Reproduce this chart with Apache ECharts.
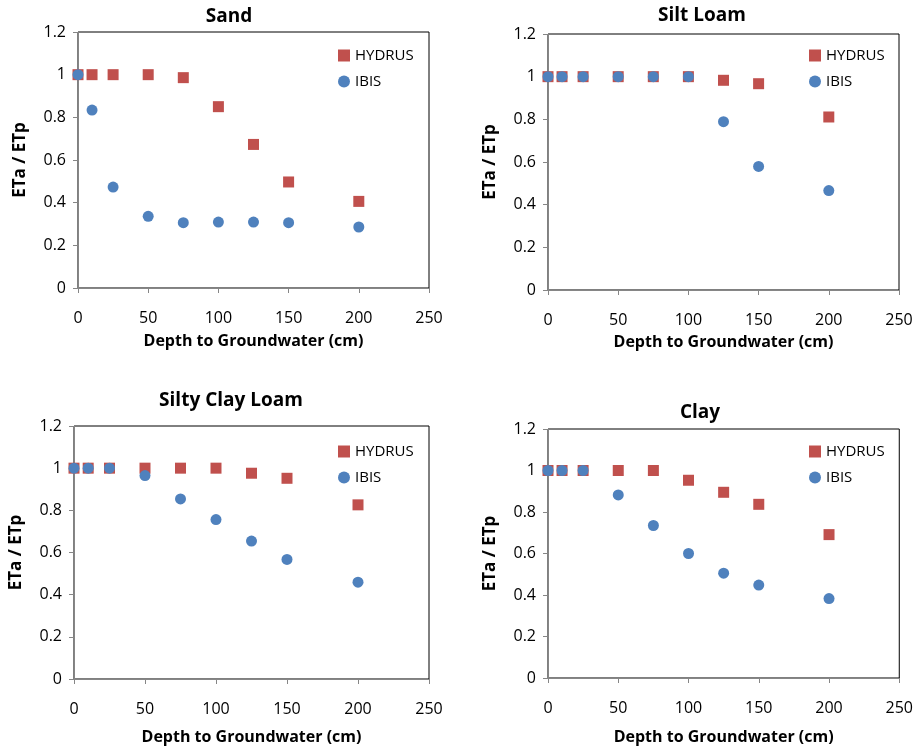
<!DOCTYPE html>
<html>
<head>
<meta charset="utf-8">
<script src="https://cdn.jsdelivr.net/npm/echarts@6/dist/echarts.min.js"></script>
<style>
  html, body { margin: 0; padding: 0; background: #fff; }
  #chart { width: 916px; height: 747px; }
</style>
</head>
<body>
<div id="chart"></div>
<script>
// depth to groundwater (cm), shared by every panel
const depth = [0, 10, 25, 50, 75, 100, 125, 150, 200];

const panelTitles = ['Sand', 'Silt Loam', 'Silty Clay Loam', 'Clay'];

const sandHydrus = [1, 1, 1, 1, 0.986, 0.85, 0.673, 0.497, 0.406];
const sandIbis = [1, 0.834, 0.473, 0.336, 0.306, 0.309, 0.309, 0.306, 0.286];

const siltLoamHydrus = [1, 1, 1, 1, 1, 1, 0.983, 0.967, 0.811];
const siltLoamIbis = [1, 1, 1, 1, 1, 1, 0.789, 0.579, 0.466];

const siltyClayHydrus = [1, 1, 1, 1, 1, 1, 0.976, 0.952, 0.826];
const siltyClayIbis = [1, 1, 1, 0.965, 0.854, 0.756, 0.654, 0.567, 0.459];

const clayHydrus = [1, 1, 1, 1, 1, 0.953, 0.895, 0.837, 0.691];
const clayIbis = [1, 1, 1, 0.882, 0.735, 0.600, 0.505, 0.448, 0.383];

const xTicks = { min: 0, max: 250, interval: 50 };
const yTicks = { min: 0, max: 1.2, interval: 0.2 };

const hydrusAll = [sandHydrus, siltLoamHydrus, siltyClayHydrus, clayHydrus];
const ibisAll = [sandIbis, siltLoamIbis, siltyClayIbis, clayIbis];

const FONT = '"Open Sans", "Liberation Sans", sans-serif';
const RED = '#C0504D';
const BLUE = '#4F81BD';
const AXIS_GREY = '#868686';

// plot areas, title centres, legend spots and x name gaps of the four panels
const panels = [
  { grid: { left: 78, top: 32, width: 351, height: 256 }, title: [229, 17], legend: [338, 48], xGap: 45 },
  { grid: { left: 548, top: 34, width: 351, height: 256 }, title: [702, 16], legend: [809, 48], xGap: 44 },
  { grid: { left: 74, top: 426, width: 355, height: 253 }, title: [231, 401], legend: [338, 444], xGap: 50 },
  { grid: { left: 548, top: 429, width: 352, height: 249 }, title: [700, 413], legend: [809, 444], xGap: 51 }
];

const pairs = v => depth.map((d, i) => [d, v[i]]);

const option = {
  animation: false,
  backgroundColor: '#fff',
  textStyle: { fontFamily: FONT },
  grid: panels.map(p => Object.assign({
    show: true,
    borderColor: '#000',
    borderWidth: 1,
    backgroundColor: 'transparent'
  }, p.grid)),
  graphic: panels.map((p, i) => ({
    type: 'text',
    x: p.title[0],
    y: p.title[1],
    style: {
      text: panelTitles[i],
      font: 'bold 19px ' + FONT,
      fill: '#000',
      align: 'center',
      verticalAlign: 'middle'
    }
  })),
  legend: panels.map(p => ({
    left: p.legend[0],
    top: p.legend[1],
    orient: 'vertical',
    padding: 0,
    itemGap: 11,
    itemWidth: 12,
    itemHeight: 12,
    data: ['HYDRUS', 'IBIS'],
    textStyle: { fontFamily: FONT, fontSize: 15, color: '#000' }
  })),
  xAxis: panels.map((p, i) => ({
    type: 'value',
    gridIndex: i,
    min: xTicks.min,
    max: xTicks.max,
    interval: xTicks.interval,
    name: 'Depth to Groundwater (cm)',
    nameLocation: 'middle',
    nameGap: p.xGap,
    nameTextStyle: { fontFamily: FONT, fontSize: 16, fontWeight: 'bold', color: '#000' },
    axisLine: { show: true, lineStyle: { color: AXIS_GREY } },
    axisTick: { show: true, length: 5, lineStyle: { color: AXIS_GREY } },
    axisLabel: { margin: 22, fontSize: 16, color: '#000', fontFamily: FONT },
    splitLine: { show: false }
  })),
  yAxis: panels.map((p, i) => ({
    type: 'value',
    gridIndex: i,
    min: yTicks.min,
    max: yTicks.max,
    interval: yTicks.interval,
    name: 'ETa / ETp',
    nameLocation: 'middle',
    nameGap: 49,
    nameTextStyle: { fontFamily: FONT, fontSize: 17, fontWeight: 'bold', color: '#000' },
    axisLine: { show: true, lineStyle: { color: AXIS_GREY } },
    axisTick: { show: true, length: 5, lineStyle: { color: AXIS_GREY } },
    axisLabel: { margin: 12, fontSize: 16, color: '#000', fontFamily: FONT },
    splitLine: { show: false }
  })),
  series: []
};

panels.forEach((p, i) => {
  option.series.push({
    name: 'HYDRUS',
    type: 'scatter',
    xAxisIndex: i,
    yAxisIndex: i,
    symbol: 'rect',
    symbolSize: 11,
    itemStyle: { color: RED, opacity: 1 },
    data: pairs(hydrusAll[i])
  });
  option.series.push({
    name: 'IBIS',
    type: 'scatter',
    xAxisIndex: i,
    yAxisIndex: i,
    symbol: 'circle',
    symbolSize: 11,
    itemStyle: { color: BLUE, opacity: 1 },
    data: pairs(ibisAll[i])
  });
});

const chart = echarts.init(document.getElementById('chart'));
chart.setOption(option);
</script>
</body>
</html>
